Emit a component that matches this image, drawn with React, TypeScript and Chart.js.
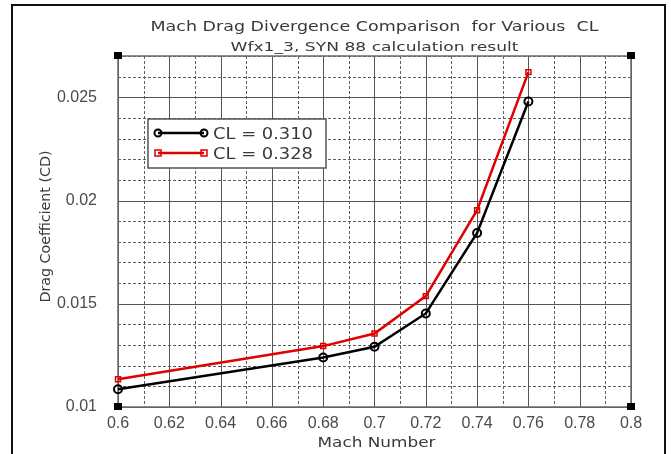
import React, { useEffect, useRef } from 'react';
import { Chart, registerables } from 'chart.js';

Chart.register(...registerables);

const machNumbers = [0.6, 0.68, 0.7, 0.72, 0.74, 0.76];
const cdCL310 = [0.01086, 0.0124, 0.01292, 0.01453, 0.01843, 0.0248];
const cdCL328 = [0.01134, 0.01295, 0.01356, 0.01537, 0.01953, 0.02622];
const seriesLabels = ['CL = 0.310', 'CL = 0.328'];
const titleText = 'Mach Drag Divergence Comparison  for Various  CL';
const subtitleText = 'Wfx1_3, SYN 88 calculation result';
const xTitle = 'Mach Number';
const yTitle = 'Drag Coefficient (CD)';
const xMin = 0.6;
const xMax = 0.8;
const yMin = 0.01;
const yMax = 0.027;

function stretchText(ctx: CanvasRenderingContext2D, text: string, x: number, y: number, target: number, rotate = 0) {
  const w = ctx.measureText(text).width;
  const s = target / w;
  ctx.save();
  ctx.translate(x, y);
  if (rotate) ctx.rotate(rotate);
  ctx.scale(s, 1);
  ctx.textAlign = 'center';
  ctx.textBaseline = 'alphabetic';
  ctx.fillText(text, 0, 0);
  ctx.restore();
}

const decorPlugin = {
  id: 'decor',
  beforeDraw(chart: any) {
    const ctx = chart.ctx as CanvasRenderingContext2D;
    ctx.save();
    ctx.fillStyle = '#ffffff';
    ctx.fillRect(0, 0, chart.width, chart.height);
    ctx.strokeStyle = '#111111';
    ctx.lineWidth = 2;
    ctx.strokeRect(12, 5, 653, 470);
    ctx.restore();
  },
  beforeDatasetsDraw(chart: any) {
    const ctx = chart.ctx as CanvasRenderingContext2D;
    const { left, right, top, bottom } = chart.chartArea;
    const xs = chart.scales.x;
    const ys = chart.scales.y;
    ctx.save();
    ctx.lineWidth = 1;
    xs.ticks.forEach((t: any) => {
      const px = Math.round(xs.getPixelForValue(t.value)) + 0.5;
      const major = Math.round(t.value * 100) % 2 === 0;
      ctx.strokeStyle = major ? '#555555' : '#5e5e5e';
      ctx.setLineDash(major ? [] : [3, 2]);
      ctx.beginPath();
      ctx.moveTo(px, top);
      ctx.lineTo(px, bottom);
      ctx.stroke();
    });
    ys.ticks.forEach((t: any) => {
      const py = Math.round(ys.getPixelForValue(t.value)) + 0.5;
      const major = Math.round(t.value * 1000) % 5 === 0;
      ctx.strokeStyle = major ? '#555555' : '#5e5e5e';
      ctx.setLineDash(major ? [] : [3, 2]);
      ctx.beginPath();
      ctx.moveTo(left, py);
      ctx.lineTo(right, py);
      ctx.stroke();
    });
    ctx.setLineDash([]);
    ctx.strokeStyle = '#6a6a6a';
    ctx.lineWidth = 1.5;
    ctx.strokeRect(left, top, right - left, bottom - top);

    // titles
    ctx.fillStyle = '#3a3a3a';
    const cx = (left + right) / 2;
    ctx.font = '14px "DejaVu Sans"';
    stretchText(ctx, titleText, cx, 31, 448);
    ctx.font = '13px "DejaVu Sans"';
    stretchText(ctx, subtitleText, cx, 51, 288);
    ctx.font = '14px "DejaVu Sans"';
    stretchText(ctx, xTitle, cx + 2, 447, 118);
    ctx.font = '14px "DejaVu Sans"';
    stretchText(ctx, yTitle, 50, (top + bottom) / 2 - 5, 152, -Math.PI / 2);
    ctx.restore();
  },
  afterDatasetsDraw(chart: any) {
    const ctx = chart.ctx as CanvasRenderingContext2D;
    const { left, right, top, bottom } = chart.chartArea;
    ctx.save();
    // corner markers
    ctx.fillStyle = '#000000';
    [[left, top], [right, top], [left, bottom], [right, bottom]].forEach(([x, y]) => {
      ctx.fillRect(x - 4, y - 4, 8, 7);
    });
    // legend box
    const lx = left + 30;
    const ly = top + 63;
    const lw = 178;
    const lh = 49;
    ctx.fillStyle = '#ffffff';
    ctx.fillRect(lx, ly, lw, lh);
    ctx.strokeStyle = '#555555';
    ctx.lineWidth = 1.5;
    ctx.strokeRect(lx, ly, lw, lh);
    chart.data.datasets.forEach((ds: any, i: number) => {
      const y = ly + 14 + i * 20;
      const x1 = lx + 10;
      const x2 = lx + 56;
      ctx.strokeStyle = ds.borderColor;
      ctx.lineWidth = 2.5;
      ctx.beginPath();
      ctx.moveTo(x1, y);
      ctx.lineTo(x2, y);
      ctx.stroke();
      ctx.lineWidth = ds.pointBorderWidth;
      [x1, x2].forEach((px) => {
        ctx.beginPath();
        if (ds.pointStyle === 'rect') {
          ctx.rect(px - 3, y - 3, 6, 6);
        } else {
          ctx.arc(px, y, 3.5, 0, Math.PI * 2);
        }
        ctx.stroke();
      });
      ctx.fillStyle = '#3a3a3a';
      ctx.font = '16px "DejaVu Sans"';
      const tw = ctx.measureText(ds.label).width;
      ctx.save();
      ctx.translate(lx + 65, y + 6);
      ctx.scale(100 / tw, 1);
      ctx.textAlign = 'left';
      ctx.fillText(ds.label, 0, 0);
      ctx.restore();
    });
    ctx.restore();
  },
};

export default function App() {
  const ref = useRef<HTMLCanvasElement>(null);
  useEffect(() => {
    if (!ref.current) return;
    const chart = new Chart(ref.current, {
      type: 'line',
      data: {
        datasets: [
          {
            label: seriesLabels[0],
            data: machNumbers.map((x, i) => ({ x, y: cdCL310[i] })),
            borderColor: '#000000',
            backgroundColor: 'transparent',
            borderWidth: 2.5,
            pointStyle: 'circle',
            pointRadius: 4,
            pointBorderWidth: 2,
            pointBackgroundColor: 'transparent',
            pointBorderColor: '#000000',
            clip: false as any,
          },
          {
            label: seriesLabels[1],
            data: machNumbers.map((x, i) => ({ x, y: cdCL328[i] })),
            borderColor: '#e00000',
            backgroundColor: 'transparent',
            borderWidth: 2.5,
            pointStyle: 'rect',
            pointRadius: 3.5,
            pointBorderWidth: 1.5,
            pointBackgroundColor: 'transparent',
            pointBorderColor: '#e00000',
            clip: false as any,
          },
        ],
      },
      options: {
        animation: false,
        responsive: false,
        layout: { padding: { top: 56, right: 40, left: 0, bottom: 0 } },
        plugins: { legend: { display: false }, title: { display: false }, tooltip: { enabled: false } },
        scales: {
          x: {
            type: 'linear',
            min: xMin,
            max: xMax,
            grid: { display: false },
            border: { display: false },
            ticks: {
              stepSize: 0.01,
              maxTicksLimit: 100,
              autoSkip: false,
              maxRotation: 0,
              padding: -1,
              color: '#4a4a4a',
              font: { family: '"Liberation Sans"', size: 16 },
              callback: (v: any) => {
                const k = Math.round(Number(v) * 100);
                return k % 2 === 0 ? String(k / 100) : '';
              },
            },
            afterFit: (s: any) => {
              s.height = 47;
            },
          },
          y: {
            type: 'linear',
            min: yMin,
            max: yMax,
            grid: { display: false },
            border: { display: false },
            ticks: {
              stepSize: 0.001,
              maxTicksLimit: 100,
              autoSkip: false,
              padding: 13,
              color: '#4a4a4a',
              font: { family: '"Liberation Sans"', size: 16 },
              callback: (v: any) => {
                const k = Math.round(Number(v) * 1000);
                return k % 5 === 0 ? String(k / 1000) : '';
              },
            },
            afterFit: (s: any) => {
              s.width = 118;
            },
          },
        },
      },
      plugins: [decorPlugin],
    });
    return () => chart.destroy();
  }, []);
  return (
    <div style={{ position: 'absolute', left: 0, top: 0, width: 671, height: 454 }}>
      <canvas ref={ref} width={671} height={454} style={{ display: 'block' }} />
    </div>
  );
}
